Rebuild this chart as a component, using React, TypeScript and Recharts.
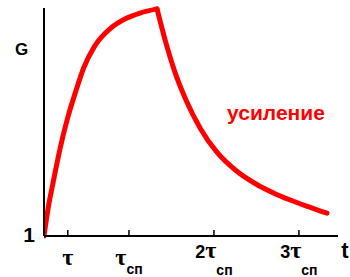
import { LineChart, Line, XAxis, YAxis, ReferenceDot, Label } from "recharts";

// время в единицах τсп
const riseT = [0, 0.05, 0.11, 0.19, 0.28, 0.37, 0.47, 0.6, 0.78, 0.97, 1.13, 1.33];
const riseG = [0, 0.125, 0.24, 0.385, 0.52, 0.63, 0.74, 0.835, 0.91, 0.955, 0.978, 0.996];
const fallT = [1.33, 1.42, 1.54, 1.68, 1.84, 2.03, 2.27, 2.5, 2.7, 2.89, 3.09, 3.33];
const fallG = [0.996, 0.867, 0.72, 0.589, 0.472, 0.37, 0.284, 0.227, 0.189, 0.159, 0.131, 0.1];

const tickValues = [0.28, 1, 2, 3];
const tickPrefix = ["", "", "2", "3"];
const tickSub = ["", "сп", "сп", "сп"];

const seriesName = "усиление";

const rise = riseT.map((t, i) => ({ t, g: riseG[i] }));
const fall = fallT.map((t, i) => ({ t, g: fallG[i] }));

const SANS = "'Liberation Sans', Arial, sans-serif";
const SERIF = "'Liberation Serif', 'Times New Roman', serif";

function XTick(props: any) {
  const { x, y, index } = props;
  const prefix = tickPrefix[index] ?? "";
  const sub = tickSub[index] ?? "";
  const base = prefix ? y + 22 : y + 29;
  return (
    <g>
      <line x1={x} y1={y} x2={x} y2={y - 6} stroke="#000" strokeWidth={1.5} />
      <text x={x} y={base} textAnchor="middle" fill="#000">
        {prefix && (
          <tspan fontFamily={SANS} fontWeight="bold" fontSize={18}>
            {prefix}
          </tspan>
        )}
        <tspan fontFamily={SERIF} fontWeight="bold" fontSize={24}>
          τ
        </tspan>
        {sub && (
          <tspan fontFamily={SANS} fontWeight="bold" fontSize={14} dy={prefix ? 17 : 9}>
            {sub}
          </tspan>
        )}
      </text>
    </g>
  );
}

function YTick(props: any) {
  const { x, y } = props;
  return (
    <text x={x - 9} y={y + 6} textAnchor="end" fontFamily={SANS} fontWeight="bold" fontSize={21} fill="#000">
      1
    </text>
  );
}

export default function App() {
  return (
    <div style={{ position: "absolute", left: 0, top: 0, background: "#fff" }}>
      <LineChart width={350} height={277} margin={{ top: 8, right: 12, left: 0, bottom: 0 }}>
        <XAxis
          type="number"
          dataKey="t"
          domain={[0, 3.46]}
          ticks={tickValues}
          tick={<XTick />}
          tickLine={false}
          tickSize={0}
          tickMargin={0}
          height={41}
          axisLine={{ stroke: "#000", strokeWidth: 2 }}
          allowDataOverflow
        >
          <Label
            content={(p: any) => {
              const vb = p.viewBox;
              return (
                <text x={vb.x + vb.width + 7} y={vb.y + 22} textAnchor="middle" fontFamily={SANS} fontWeight="bold" fontSize={22} fill="#000">
                  t
                </text>
              );
            }}
          />
        </XAxis>
        <YAxis
          type="number"
          domain={[0, 1]}
          ticks={[0]}
          tick={<YTick />}
          tickLine={false}
          tickSize={0}
          tickMargin={0}
          width={44}
          axisLine={{ stroke: "#000", strokeWidth: 2 }}
        >
          <Label
            content={(p: any) => {
              const vb = p.viewBox;
              return (
                <text x={vb.x + 21.5} y={vb.y + 47} textAnchor="middle" fontFamily={SANS} fontWeight="bold" fontSize={17} fill="#000">
                  G
                </text>
              );
            }}
          />
        </YAxis>
        <Line
          data={rise}
          dataKey="g"
          type="monotone"
          stroke="#ff0000"
          strokeWidth={5}
          strokeLinecap="round"
          dot={false}
          isAnimationActive={false}
        />
        <Line
          data={fall}
          dataKey="g"
          type="monotone"
          stroke="#ff0000"
          strokeWidth={5}
          strokeLinecap="round"
          dot={false}
          isAnimationActive={false}
        />
        <ReferenceDot
          x={2.73}
          y={0.54}
          r={0}
          fill="none"
          stroke="none"
          label={{
            value: seriesName,
            position: "center",
            fill: "#ff0000",
            fontFamily: SANS,
            fontWeight: "bold",
            fontSize: 21,
          }}
        />
      </LineChart>
    </div>
  );
}
